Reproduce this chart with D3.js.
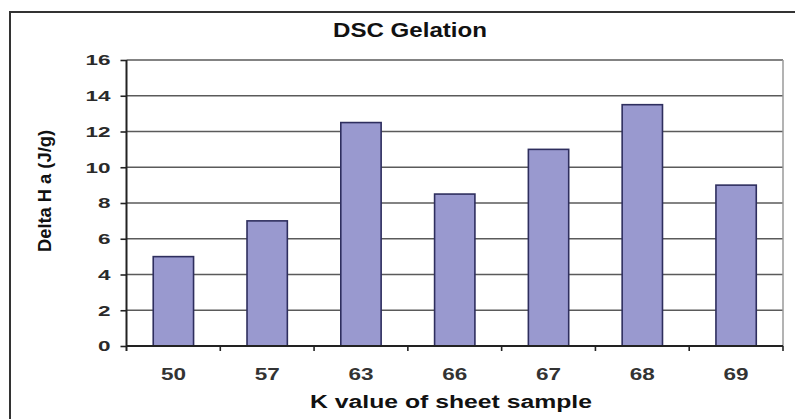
<!DOCTYPE html>
<html>
<head>
<meta charset="utf-8">
<script src="https://cdn.jsdelivr.net/npm/d3@7"></script>
<style>
  html, body { margin: 0; padding: 0; background: #fff; }
  svg { display: block; font-family: "Liberation Sans", Arial, sans-serif; font-weight: bold; }
</style>
</head>
<body>
<svg id="chart" width="795" height="419"></svg>
<script>
// Gelation enthalpy by K value of the sheet sample
const categories = ["50", "57", "63", "66", "67", "68", "69"];
const deltaH = [5, 7, 12.5, 8.5, 11, 13.5, 9];
const yTicks = [0, 2, 4, 6, 8, 10, 12, 14, 16];
const titleText = "DSC Gelation";
const xTitle = "K value of sheet sample";
const yTitle = "Delta H a (J/g)";

const svg = d3.select("#chart");
const plot = { left: 126.5, right: 783, top: 60, bottom: 346 };

// Outer chart frame (left and top edges visible in view)
svg.append("path")
  .attr("d", "M10,419 L10,12 L795,12")
  .attr("fill", "none").attr("stroke", "#333").attr("stroke-width", 2);

const x = d3.scaleBand()
  .domain(categories)
  .range([plot.left, plot.right])
  .paddingInner(0.57)
  .paddingOuter(0.285);

const y = d3.scaleLinear().domain([0, 16]).range([plot.bottom, plot.top]);

// Horizontal gridlines
svg.append("g").selectAll("line").data(yTicks.filter(d => d > 0)).join("line")
  .attr("x1", plot.left).attr("x2", plot.right)
  .attr("y1", d => y(d)).attr("y2", d => y(d))
  .attr("stroke", "#5a5a5a").attr("stroke-width", 1.6);

// Right edge of plot area
svg.append("line")
  .attr("x1", plot.right).attr("x2", plot.right)
  .attr("y1", plot.top).attr("y2", plot.bottom)
  .attr("stroke", "#9a9a9a").attr("stroke-width", 1.5);

// Bars
svg.append("g").selectAll("rect").data(deltaH).join("rect")
  .attr("x", (d, i) => x(categories[i]))
  .attr("width", x.bandwidth())
  .attr("y", d => y(d))
  .attr("height", d => y(0) - y(d))
  .attr("fill", "#9999cf")
  .attr("stroke", "#2e2e5e").attr("stroke-width", 1.6);

// Y axis
const yAxis = svg.append("g")
  .attr("transform", `translate(${plot.left},0)`)
  .call(d3.axisLeft(y).tickValues(yTicks).tickSize(6).tickPadding(10).tickFormat(d3.format("d")));
yAxis.select(".domain").attr("stroke", "#222").attr("stroke-width", 2).attr("d", `M0,${plot.top}V${plot.bottom + 5}`);
yAxis.selectAll(".tick line").attr("stroke", "#222").attr("stroke-width", 1.6);
yAxis.selectAll(".tick text")
  .attr("fill", "#2a2a2a").attr("font-size", 15).attr("font-weight", "bold")
  .attr("font-family", "'Liberation Sans', Arial, sans-serif")
  .attr("textLength", d => String(d).length * 12.5).attr("lengthAdjust", "spacingAndGlyphs");

// X axis baseline with ticks at category boundaries
svg.append("line")
  .attr("x1", plot.left).attr("x2", plot.right)
  .attr("y1", y(0)).attr("y2", y(0))
  .attr("stroke", "#222").attr("stroke-width", 2);
const step = x.step();
const boundaries = categories.map((c, i) => x(categories[0]) - step * x.paddingInner() / 2 + step * (i + 1));
svg.append("g").selectAll("line").data(boundaries).join("line")
  .attr("x1", d => d).attr("x2", d => d)
  .attr("y1", y(0)).attr("y2", y(0) + 5)
  .attr("stroke", "#222").attr("stroke-width", 1.6);

// Category labels
svg.append("g").selectAll("text").data(categories).join("text")
  .attr("x", d => x(d) + x.bandwidth() / 2)
  .attr("y", 380)
  .attr("text-anchor", "middle")
  .attr("font-size", 16).attr("fill", "#333")
  .attr("textLength", 25).attr("lengthAdjust", "spacingAndGlyphs")
  .text(d => d);

// Titles
svg.append("text")
  .attr("x", 410).attr("y", 36.5)
  .attr("text-anchor", "middle").attr("font-size", 20).attr("fill", "#111")
  .attr("textLength", 154).attr("lengthAdjust", "spacingAndGlyphs")
  .text(titleText);

svg.append("text")
  .attr("x", 451).attr("y", 408)
  .attr("text-anchor", "middle").attr("font-size", 18).attr("fill", "#111")
  .attr("textLength", 282).attr("lengthAdjust", "spacingAndGlyphs")
  .text(xTitle);

svg.append("text")
  .attr("transform", "translate(51,191) rotate(-90)")
  .attr("text-anchor", "middle").attr("font-size", 18).attr("fill", "#111")
  .attr("textLength", 122).attr("lengthAdjust", "spacingAndGlyphs")
  .text(yTitle);
</script>
</body>
</html>
